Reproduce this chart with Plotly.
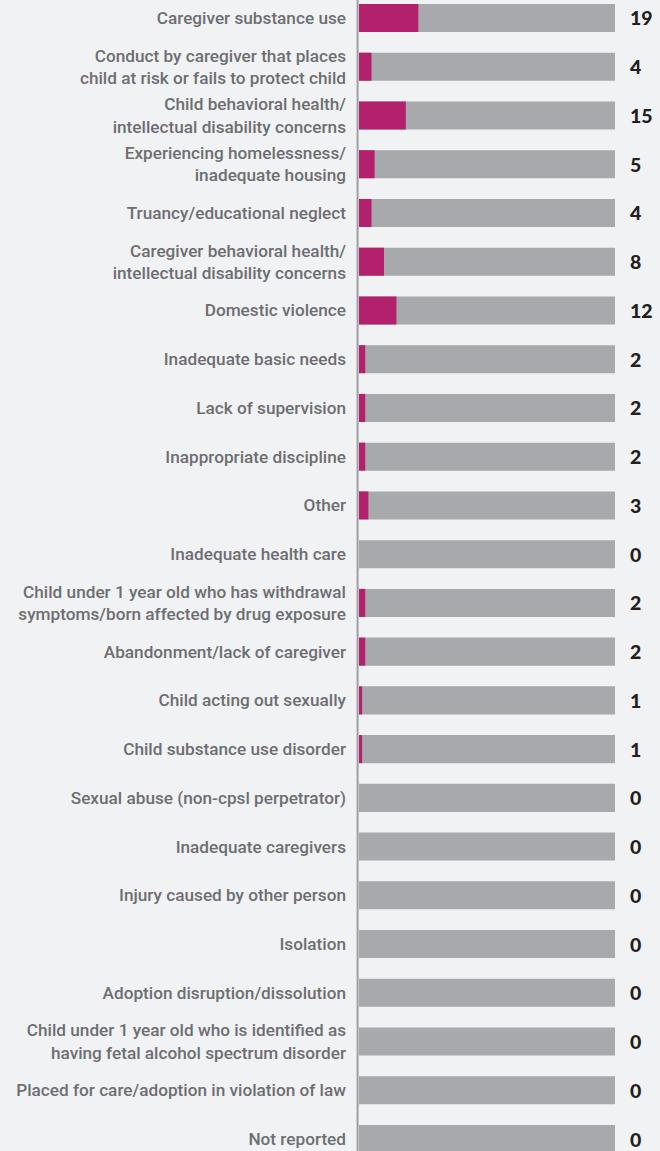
import plotly.graph_objects as go

categories = [
    "Caregiver substance use",
    "Conduct by caregiver that places<br>child at risk or fails to protect child",
    "Child behavioral health/<br>intellectual disability concerns",
    "Experiencing homelessness/<br>inadequate housing",
    "Truancy/educational neglect",
    "Caregiver behavioral health/<br>intellectual disability concerns",
    "Domestic violence",
    "Inadequate basic needs",
    "Lack of supervision",
    "Inappropriate discipline",
    "Other",
    "Inadequate health care",
    "Child under 1 year old who has withdrawal<br>symptoms/born affected by drug exposure",
    "Abandonment/lack of caregiver",
    "Child acting out sexually",
    "Child substance use disorder",
    "Sexual abuse (non-cpsl perpetrator)",
    "Inadequate caregivers",
    "Injury caused by other person",
    "Isolation",
    "Adoption disruption/dissolution",
    "Child under 1 year old who is identified as<br>having fetal alcohol spectrum disorder",
    "Placed for care/adoption in violation of law",
    "Not reported",
]
values = [19, 4, 15, 5, 4, 8, 12, 2, 2, 2, 3, 0, 2, 2, 1, 1, 0, 0, 0, 0, 0, 0, 0, 0]
total = sum(values)
totals = [total] * len(categories)

BG = "#f1f2f4"
GRAY = "#a7a9ac"
MAGENTA = "#b3216d"
TEXT = "#6d6e71"

fig = go.Figure()
fig.add_trace(go.Bar(
    y=categories, x=totals, orientation="h", marker=dict(color=GRAY, line_width=0),
    width=0.575, hoverinfo="skip", showlegend=False,
))
fig.add_trace(go.Bar(
    y=categories, x=values, orientation="h", marker=dict(color=MAGENTA, line_width=0),
    width=0.575, showlegend=False,
))

for c, v in zip(categories, values):
    fig.add_annotation(
        x=1, xref="paper", y=c, yref="y", text=str(v), showarrow=False,
        xanchor="left", xshift=13, yanchor="middle",
        font=dict(family="Lato", size=19.5, color="#231f20", weight=900),
    )

fig.add_shape(
    type="line", xref="paper", yref="paper", x0=-0.0055, x1=-0.0055, y0=0, y1=1,
    line=dict(color="#9d9fa2", width=2), layer="above",
)

fig.update_layout(
    width=660, height=1151,
    margin=dict(l=359, r=45, t=0, b=0),
    paper_bgcolor=BG, plot_bgcolor=BG,
    barmode="overlay",
    xaxis=dict(range=[0, total], visible=False, showgrid=False, zeroline=False),
    yaxis=dict(
        range=[23.245, -0.369], showgrid=False, zeroline=False, showline=False,
        ticks="", ticklabelstandoff=12,
        tickfont=dict(family="Roboto", size=17.2, color=TEXT, weight=500),
    ),
)
fig.write_html("out.html", config={"displayModeBar": False})

with open("out.html", "r", encoding="utf-8") as f:
    html = f.read()
html = html.replace("<head>", "<head><style>html,body{margin:0;padding:0;overflow:hidden;background:#f1f2f4;}</style>", 1)
with open("out.html", "w", encoding="utf-8") as f:
    f.write(html)
